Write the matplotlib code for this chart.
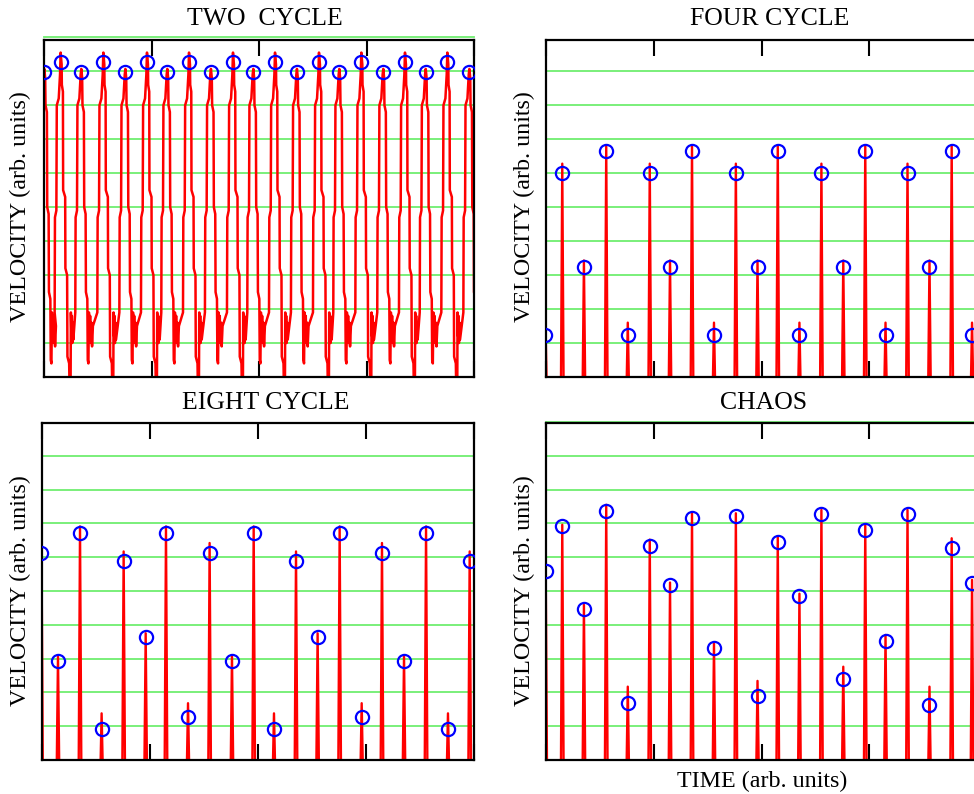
import matplotlib.pyplot as plt

plt.rcParams['font.family'] = ['Liberation Serif', 'DejaVu Serif']

# ---- TWO CYCLE: peak times, circle heights, spike tops, kind (1 = tall peak)
two_t = [0.003, 0.155, 0.347, 0.552, 0.757, 0.958, 1.147, 1.349, 1.553, 1.758, 1.947,
         2.149, 2.353, 2.558, 2.747, 2.952, 3.156, 3.358, 3.551, 3.752, 3.957]
two_circ = [8.98, 9.28] * 10 + [8.98]
two_top = [9.07, 9.55] * 10 + [9.07]
two_kind = [0, 1] * 10 + [0]

# shape of one spike in the two cycle trace (offset in time, velocity)
RISE = [(-0.056, 1.9), (-0.053, 4.7), (-0.040, 4.9), (-0.036, 8.0), (-0.018, 8.2), (-0.006, 8.9)]
HIGH_FALL = [(0.009, 9.2), (0.011, 8.6), (0.021, 8.4), (0.023, 5.5), (0.042, 5.3), (0.044, 3.2),
             (0.060, 3.0), (0.063, 0.6), (0.079, 0.4), (0.084, -0.6), (0.092, -0.6), (0.095, 1.9),
             (0.100, 1.2), (0.104, 1.8), (0.108, 1.0), (0.113, 1.6), (0.118, 1.1)]
LOW_FALL = [(0.008, 8.8), (0.011, 8.0), (0.024, 7.8), (0.027, 5.0), (0.040, 4.8), (0.043, 2.5),
            (0.056, 2.3), (0.060, 0.5), (0.066, 0.4), (0.071, 1.9), (0.077, 1.1), (0.082, 1.8),
            (0.088, 1.0), (0.094, 1.6), (0.100, 0.9), (0.108, 1.5)]

# ---- FOUR CYCLE
four_t = [-0.005, 0.151, 0.352, 0.559, 0.759, 0.963, 1.151, 1.355, 1.559, 1.762, 1.963,
          2.151, 2.352, 2.556, 2.759, 2.963, 3.151, 3.355, 3.559, 3.765, 3.954]
four_circ = [1.23, 6.00, 3.23, 6.65, 1.23, 6.00, 3.23, 6.65, 1.23, 6.00, 3.23,
             6.65, 1.23, 6.00, 3.23, 6.65, 1.23, 6.00, 3.23, 6.65, 1.23]
four_top = [1.60, 6.28, 3.43, 6.82, 1.60, 6.28, 3.43, 6.82, 1.60, 6.28, 3.43,
            6.82, 1.60, 6.28, 3.43, 6.82, 1.60, 6.28, 3.43, 6.82, 1.60]

# ---- EIGHT CYCLE
eight_t = [-0.005, 0.148, 0.352, 0.552, 0.756, 0.960, 1.148, 1.352, 1.552, 1.759, 1.960,
           2.148, 2.352, 2.552, 2.756, 2.960, 3.148, 3.352, 3.556, 3.759, 3.960]
eight_circ = [6.13, 2.94, 6.73, 0.92, 5.90, 3.65, 6.73, 1.28, 6.13, 2.94, 6.73,
              0.92, 5.90, 3.65, 6.73, 1.28, 6.13, 2.94, 6.73, 0.92, 5.90]
eight_top = [6.42, 3.06, 6.91, 1.38, 6.17, 3.75, 6.91, 1.68, 6.42, 3.10, 6.91,
             1.38, 6.17, 3.75, 6.91, 1.68, 6.42, 3.10, 6.91, 1.38, 6.17]

# ---- CHAOS
chaos_t = [-0.003, 0.151, 0.352, 0.559, 0.759, 0.963, 1.151, 1.355, 1.559, 1.762, 1.963,
           2.151, 2.352, 2.556, 2.759, 2.963, 3.151, 3.355, 3.559, 3.765, 3.954]
chaos_circ = [5.60, 6.91, 4.48, 7.38, 1.70, 6.32, 5.18, 7.15, 3.30, 7.22, 1.88,
              6.44, 4.84, 7.27, 2.41, 6.79, 3.53, 7.27, 1.63, 6.26, 5.25]
chaos_top = [5.70, 6.96, 4.59, 7.55, 2.17, 6.52, 5.25, 7.30, 3.46, 7.30, 2.34,
             6.61, 4.92, 7.40, 2.76, 6.96, 3.70, 7.40, 2.17, 6.56, 5.33]

grid_levels = [1, 2, 3, 4, 5, 6, 7, 8, 9]
tick_pos = [0, 1, 2, 3, 4]

RED = '#ff0000'
BLUE = '#0000ff'
GREEN = '#70ee70'


def two_cycle_path(times, tops, kinds):
    xs, ys = [], []
    for t, top, k in zip(times, tops, kinds):
        for dx, v in RISE:
            xs.append(t + dx)
            ys.append(v)
        xs.append(t)
        ys.append(top)
        for dx, v in (HIGH_FALL if k else LOW_FALL):
            xs.append(t + dx)
            ys.append(v)
    return xs, ys


def spike_path(times, tops, half=0.013):
    xs, ys = [], []
    for t, top in zip(times, tops):
        xs += [t - half, t, t + half]
        ys += [-0.6, top, -0.6]
    return xs, ys


def setup(ax, ytop, top_line=False):
    ax.set_xlim(0, 4)
    ax.set_ylim(0, ytop)
    for g in grid_levels:
        ax.axhline(g, color=GREEN, lw=1.3, zorder=1)
    if top_line:
        ax.axhline(10, color=GREEN, lw=1.3, zorder=1, clip_on=False)
    ax.set_xticks(tick_pos)
    ax.set_yticks([])
    ax.tick_params(axis='x', direction='in', length=11.5, width=1.5, top=True,
                   labelbottom=False)
    for s in ax.spines.values():
        s.set_linewidth(1.6)


W, H = 974, 794
fig = plt.figure(figsize=(W / 100, H / 100), dpi=100)

ax1 = fig.add_axes([44 / W, 1 - 377 / H, 430 / W, 337 / H])
ax2 = fig.add_axes([546 / W, 1 - 377 / H, 431 / W, 337 / H])
ax3 = fig.add_axes([42 / W, 1 - 760 / H, 432 / W, 337 / H])
ax4 = fig.add_axes([546 / W, 1 - 760 / H, 431 / W, 337 / H])

setup(ax1, 9.92, top_line=True)
setup(ax2, 9.92)
setup(ax3, 9.97)
setup(ax4, 9.97, top_line=True)

x, y = two_cycle_path(two_t, two_top, two_kind)
ax1.plot(x, y, color=RED, lw=1.8, zorder=2)
ax1.plot(two_t, two_circ, 'o', mfc='none', mec=BLUE, ms=9.5, mew=1.6, zorder=3)

for ax, t, top, circ in [(ax2, four_t, four_top, four_circ),
                         (ax3, eight_t, eight_top, eight_circ),
                         (ax4, chaos_t, chaos_top, chaos_circ)]:
    x, y = spike_path(t, top)
    ax.plot(x, y, color=RED, lw=1.7, zorder=2)
    ax.plot(t, circ, 'o', mfc='none', mec=BLUE, ms=9.5, mew=1.6, zorder=3)

tfs = 18.5
lfs = 17.3
fig.text(265 / W, 1 - 25 / H, 'TWO  CYCLE', ha='center', va='baseline', fontsize=tfs)
fig.text(770 / W, 1 - 25 / H, 'FOUR CYCLE', ha='center', va='baseline', fontsize=tfs)
fig.text(266 / W, 1 - 409 / H, 'EIGHT CYCLE', ha='center', va='baseline', fontsize=tfs)
fig.text(764 / W, 1 - 409 / H, 'CHAOS', ha='center', va='baseline', fontsize=tfs)
fig.text(762 / W, 1 - 787 / H, 'TIME (arb. units)', ha='center', va='baseline', fontsize=lfs)

for xp, yp in [(20, 207), (524, 207), (20, 591), (524, 591)]:
    fig.text(xp / W, 1 - yp / H, 'VELOCITY (arb. units)', rotation=90,
             ha='center', va='center', fontsize=lfs)

fig.savefig('out.png', dpi=100)
